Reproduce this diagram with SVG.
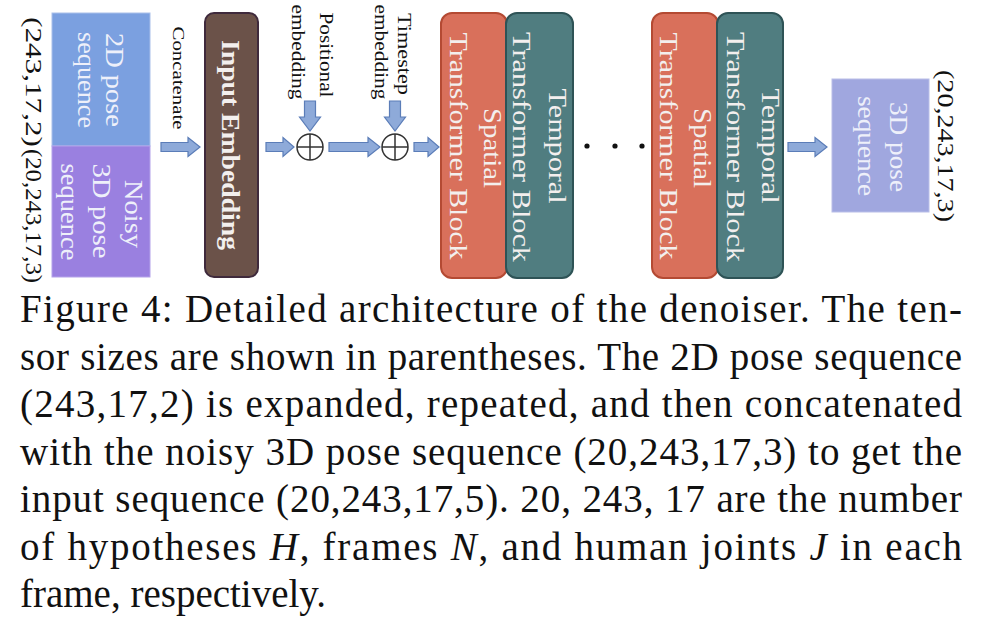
<svg xmlns="http://www.w3.org/2000/svg" width="982" height="640" viewBox="0 0 982 640">
<style>
.t{font-family:"Liberation Serif","Times New Roman",serif;}
.rt{font-family:"Liberation Serif","Times New Roman",serif;text-anchor:middle;}
.wt{fill:#f3efee;font-size:25px;}
.lt{fill:#eef0fa;font-size:25px;}
.bk{fill:#111;}
.arr{fill:#8eaad9;stroke:#5b7db8;stroke-width:1.2;}
.cap{font-family:"Liberation Serif","Times New Roman",serif;font-size:39px;fill:#111;}
</style>
<rect width="982" height="640" fill="#fff"/>
<g id="pose2d">
<rect x="52" y="13" width="98" height="133" fill="#7ba0e0" stroke="#a9bfea" stroke-width="1"/>
<text class="rt lt" transform="translate(106,80) rotate(90)" textLength="94" lengthAdjust="spacingAndGlyphs">2D pose</text>
<text class="rt lt" transform="translate(78,80) rotate(90)" textLength="96" lengthAdjust="spacingAndGlyphs">sequence</text>
</g>
<g id="noisy3d">
<rect x="52" y="146" width="98" height="131" fill="#9a80e0" stroke="#b4a2ea" stroke-width="1"/>
<text class="rt lt" transform="translate(125,214) rotate(90)" textLength="68" lengthAdjust="spacingAndGlyphs">Noisy</text>
<text class="rt lt" transform="translate(93,211) rotate(90)" textLength="95" lengthAdjust="spacingAndGlyphs">3D pose</text>
<text class="rt lt" transform="translate(61,212) rotate(90)" textLength="97" lengthAdjust="spacingAndGlyphs">sequence</text>
</g>
<g id="size-labels">
<text class="rt bk" font-size="23" transform="translate(26,82) rotate(90)" textLength="130" lengthAdjust="spacingAndGlyphs">(243,17,2)</text>
<text class="rt bk" font-size="23" transform="translate(26,216) rotate(90)" textLength="134" lengthAdjust="spacingAndGlyphs">(20,243,17,3)</text>
<text class="rt bk" font-size="23" transform="translate(938,146) rotate(90)" textLength="152" lengthAdjust="spacingAndGlyphs">(20,243,17,3)</text>
</g>
<g id="concat-label">
<text class="rt bk" font-size="17" transform="translate(173,78) rotate(90)" textLength="103" lengthAdjust="spacingAndGlyphs">Concatenate</text>
</g>
<g id="input-embedding">
<rect x="205" y="13" width="53" height="264" rx="9" fill="#6b5249" stroke="#3f2a3c" stroke-width="2"/>
<text class="rt wt" font-weight="bold" transform="translate(222,145) rotate(90)" textLength="210" lengthAdjust="spacingAndGlyphs">Input Embedding</text>
</g>
<g id="pos-label">
<text class="rt bk" font-size="18" transform="translate(320,55) rotate(90)" textLength="85" lengthAdjust="spacingAndGlyphs">Positional</text>
<text class="rt bk" font-size="18" transform="translate(292,52) rotate(90)" textLength="95" lengthAdjust="spacingAndGlyphs">embedding</text>
</g>
<g id="time-label">
<text class="rt bk" font-size="18" transform="translate(398,54) rotate(90)" textLength="82" lengthAdjust="spacingAndGlyphs">Timestep</text>
<text class="rt bk" font-size="18" transform="translate(375,52) rotate(90)" textLength="95" lengthAdjust="spacingAndGlyphs">embedding</text>
</g>
<g id="plus1">
<circle cx="310" cy="147" r="13" fill="#fff" stroke="#333" stroke-width="1.5"/>
<path d="M297 147H323M310 134V160" stroke="#333" stroke-width="1.5"/>
</g>
<g id="plus2">
<circle cx="395" cy="147" r="13" fill="#fff" stroke="#333" stroke-width="1.5"/>
<path d="M382 147H408M395 134V160" stroke="#333" stroke-width="1.5"/>
</g>
<g id="spatial1">
<rect x="441" y="13" width="66" height="265" rx="11" fill="#d9705b" stroke="#b44a33" stroke-width="2"/>
<text class="rt wt" transform="translate(484,148) rotate(90)" textLength="80" lengthAdjust="spacingAndGlyphs">Spatial</text>
<text class="rt wt" transform="translate(450,146) rotate(90)" textLength="227" lengthAdjust="spacingAndGlyphs">Transformer Block</text>
</g>
<g id="temporal1">
<rect x="506" y="13" width="67" height="265" rx="11" fill="#507d80" stroke="#2e5356" stroke-width="2"/>
<text class="rt wt" transform="translate(549,146) rotate(90)" textLength="115" lengthAdjust="spacingAndGlyphs">Temporal</text>
<text class="rt wt" transform="translate(513,147) rotate(90)" textLength="230" lengthAdjust="spacingAndGlyphs">Transformer Block</text>
</g>
<g id="dots">
<circle cx="587" cy="146" r="2.6" fill="#111"/>
<circle cx="615" cy="146" r="2.6" fill="#111"/>
<circle cx="642" cy="146" r="2.6" fill="#111"/>
</g>
<g id="spatial2">
<rect x="652" y="13" width="66" height="265" rx="11" fill="#d9705b" stroke="#b44a33" stroke-width="2"/>
<text class="rt wt" transform="translate(694,148) rotate(90)" textLength="80" lengthAdjust="spacingAndGlyphs">Spatial</text>
<text class="rt wt" transform="translate(660,146) rotate(90)" textLength="227" lengthAdjust="spacingAndGlyphs">Transformer Block</text>
</g>
<g id="temporal2">
<rect x="717" y="13" width="66" height="265" rx="11" fill="#507d80" stroke="#2e5356" stroke-width="2"/>
<text class="rt wt" transform="translate(762,146) rotate(90)" textLength="115" lengthAdjust="spacingAndGlyphs">Temporal</text>
<text class="rt wt" transform="translate(727,147) rotate(90)" textLength="230" lengthAdjust="spacingAndGlyphs">Transformer Block</text>
</g>
<g id="pose3d-out">
<rect x="832" y="79" width="97" height="133" fill="#a0a7df" stroke="#b9bee8" stroke-width="1"/>
<text class="rt lt" transform="translate(890,147) rotate(90)" textLength="90" lengthAdjust="spacingAndGlyphs">3D pose</text>
<text class="rt lt" transform="translate(858,146) rotate(90)" textLength="100" lengthAdjust="spacingAndGlyphs">sequence</text>
</g>
<g id="connectors">
<path class="arr" d="M161 142.5H188V137.5L200 147L188 156.5V151.5H161Z"/>
<path class="arr" d="M266 142.5H283V137.5L294 147L283 156.5V151.5H266Z"/>
<path class="arr" d="M329 142.5H368V137.5L380 147L368 156.5V151.5H329Z"/>
<path class="arr" d="M414 142.5H428V137.5L439 147L428 156.5V151.5H414Z"/>
<path class="arr" d="M788 142.5H815V137.5L827 147L815 156.5V151.5H788Z"/>
<path class="arr" d="M304.5 101H315.5V117H320.5L310 131L299.5 117H304.5Z"/>
<path class="arr" d="M389.5 101H400.5V117H405.5L395 131L384.5 117H389.5Z"/>
</g>
<g id="caption">
<text class="cap" x="20" y="322" textLength="942" lengthAdjust="spacing">Figure 4: Detailed architecture of the denoiser.  The ten-</text>
<text class="cap" x="20" y="369.5" textLength="942" lengthAdjust="spacing">sor sizes are shown in parentheses. The 2D pose sequence</text>
<text class="cap" x="20" y="417" textLength="942" lengthAdjust="spacing">(243,17,2) is expanded, repeated, and then concatenated</text>
<text class="cap" x="20" y="464.5" textLength="942" lengthAdjust="spacing">with the noisy 3D pose sequence (20,243,17,3) to get the</text>
<text class="cap" x="20" y="512" textLength="942" lengthAdjust="spacing">input sequence (20,243,17,5).  20, 243, 17 are the number</text>
<text class="cap" x="20" y="559.5" textLength="942" lengthAdjust="spacing">of hypotheses <tspan font-style="italic">H</tspan>, frames <tspan font-style="italic">N</tspan>, and human joints <tspan font-style="italic">J</tspan> in each</text>
<text class="cap" x="20" y="607">frame, respectively.</text>
</g>
</svg>
